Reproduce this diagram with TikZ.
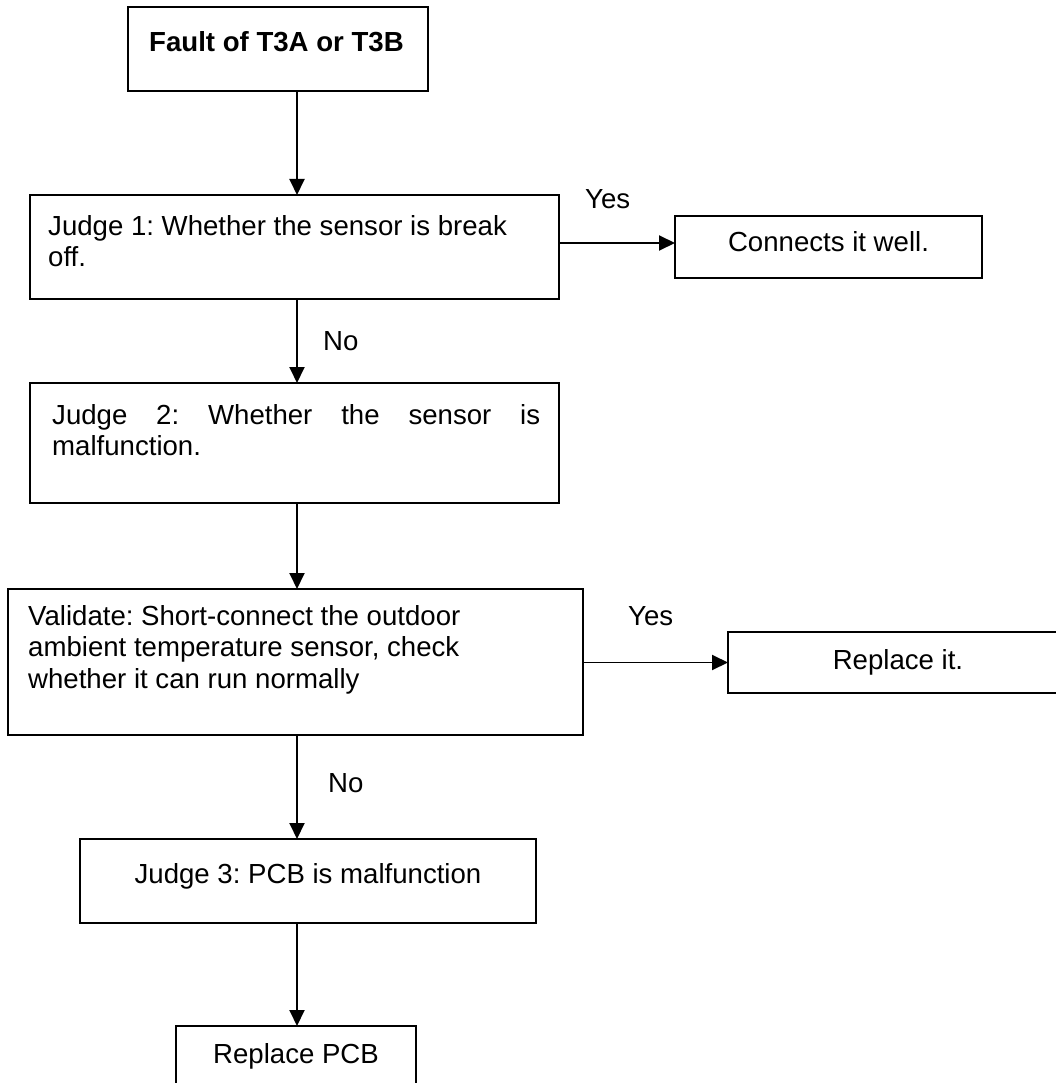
\documentclass[tikz,border=0pt]{standalone}
\usepackage{fontspec}
\setmainfont{Liberation Sans}
\usetikzlibrary{arrows.meta}
\frenchspacing
\begin{document}
\frenchspacing
\begin{tikzpicture}[x=1pt,y=-1pt,
  box/.style={draw, line width=1.7pt, rectangle, inner sep=0pt, outer sep=0pt, anchor=north west},
  txt/.style={inner sep=0pt, font=\fontsize{27.6}{31.5}\selectfont, align=left},
  arr/.style={line width=1.9pt, -{Triangle[length=16pt,width=15pt]}}]
\useasboundingbox[fill=white] (0,0) rectangle (1055,1083);
\coordinate (spine) at (297,0);
% boxes
\node[box, minimum width=300pt, minimum height=84pt]  (top)  at (128,7)    {};
\node[box, minimum width=529pt, minimum height=104pt] (j1)   at (30,195)   {};
\node[box, minimum width=307pt, minimum height=62pt]  (conn) at (675,216)  {};
\node[box, minimum width=529pt, minimum height=120pt] (j2)   at (30,383)   {};
\node[box, minimum width=575pt, minimum height=146pt] (val)  at (8,589)    {};
\node[box, minimum width=340pt, minimum height=61pt]  (rep)  at (728,632)  {};
\node[box, minimum width=456pt, minimum height=84pt]  (j3)   at (80,839)   {};
\node[box, minimum width=240pt, minimum height=90pt]  (rpcb) at (176,1026) {};
% texts
\node[txt, anchor=north west, font=\fontsize{27.6}{31.5}\selectfont\bfseries] (topt) at (149,31) {Fault of T3A or T3B};
\node[txt, anchor=north west] (j1t) at (48,215) {Judge 1: Whether the sensor is break\\off.};
\node[txt] (connt) at ([yshift=5pt]conn.center) {Connects it well.};
\node[txt, anchor=north west] (j2t) at (52,404) {\makebox[488pt][s]{Judge 2: Whether the sensor is}\\malfunction.};
\node[txt, anchor=north west] (valt) at (28,605) {Validate: Short-connect the outdoor\\ambient temperature sensor, check\\whether it can run normally};
\node[txt] (rept) at (rep.center) {Replace it.};
\node[txt] (j3t) at (308,876) {Judge 3: PCB is malfunction};
\node[txt] (rpcbt) at (296,1056) {Replace PCB};
% labels
\node[txt, anchor=base west] (yes1) at (585,209) {Yes};
\node[txt, anchor=base west] (yes2) at (628,625) {Yes};
\node[txt, anchor=base west] (no1)  at (323,350) {No};
\node[txt, anchor=base west] (no2)  at (328,792) {No};
% connectors
\coordinate (cin) at ([yshift=4pt]conn.west);
\draw[arr] (spine |- top.south) -- (spine |- j1.north);
\draw[arr] (j1.east |- cin) -- (cin);
\draw[arr] (spine |- j1.south) -- (spine |- j2.north);
\draw[arr] (spine |- j2.south) -- (spine |- val.north);
\draw[arr] (val.east |- rep.west) -- (rep.west);
\draw[arr] (spine |- val.south) -- (spine |- j3.north);
\draw[arr] (spine |- j3.south) -- (spine |- rpcb.north);
\end{tikzpicture}
\end{document}
